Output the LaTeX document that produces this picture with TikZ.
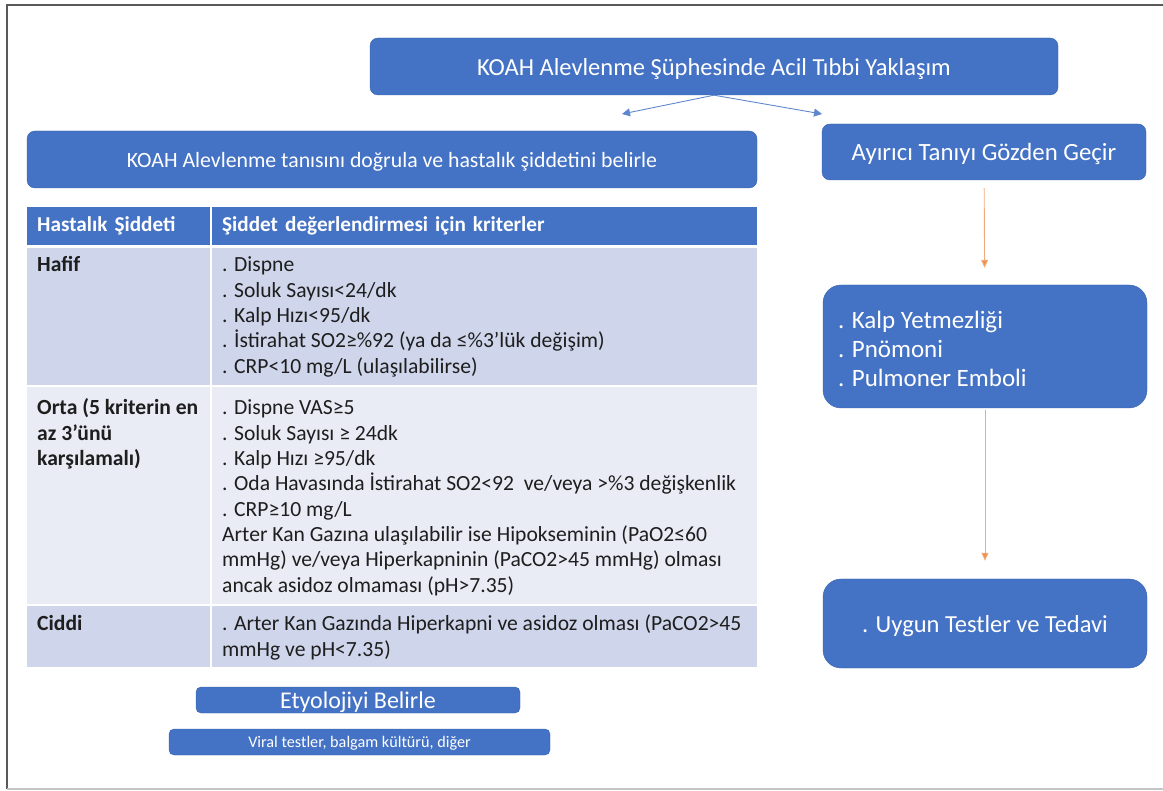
\documentclass[tikz,border=0pt]{standalone}
\usepackage{fontspec}
\setmainfont{Carlito}
\usetikzlibrary{arrows.meta, positioning}
\definecolor{boxblue}{HTML}{4472C4}
\definecolor{boxedge}{HTML}{3B63AB}
\definecolor{rowdark}{HTML}{CFD5EA}
\definecolor{rowlight}{HTML}{E9EBF5}
\definecolor{flowline}{HTML}{ED7D31}
\definecolor{bodytext}{HTML}{1E1E1E}
\tikzset{
    flowbox/.style={
        rectangle,
        rounded corners=8pt,
        draw=boxedge,
        fill=boxblue,
        text=white,
        inner sep=0pt,
        text depth=0pt,
        font=\fontsize{24.5}{28}\selectfont
    },
    listbox/.style={
        flowbox,
        rounded corners=18pt
    },
    smallbox/.style={
        flowbox,
        rounded corners=5pt
    },
    hcell/.style={
        rectangle,
        anchor=north west,
        fill=boxblue,
        text=white,
        inner xsep=10pt,
        inner ysep=0pt,
        align=left,
        minimum height=38pt,
        font=\fontsize{21.2}{25}\selectfont\bfseries
    },
    tcell/.style={
        rectangle,
        anchor=north west,
        inner sep=0pt
    },
    celltext/.style={
        inner sep=0pt,
        align=left,
        text=bodytext,
        font=\fontsize{21.6}{25.3}\selectfont
    },
    splitarrow/.style={
        draw=boxblue!85,
        line width=0.9pt,
        -{Triangle[length=8pt,width=8pt]}
    },
    flowarrow/.style={
        draw=flowline!65,
        line width=0.9pt,
        -{Triangle[length=8pt,width=7pt,fill=flowline!85]}
    }
}

\begin{document}
\begin{tikzpicture}[x=1pt,y=-1pt]

\useasboundingbox (0,0) rectangle (1163,791);
\draw[gray!70!black, line width=1.6pt] (7,789) -- (7,5) -- (1163,5);
\draw[gray!45, line width=1.2pt] (7,789) -- (1163,789);

\node[flowbox, minimum width=688pt, minimum height=57pt] (main) at (714,66.5) {KOAH Alevlenme Şüphesinde Acil Tıbbi Yaklaşım};
\node[flowbox, minimum width=730pt, minimum height=57pt, font=\fontsize{21.8}{25}\selectfont] (confirm) at (392,159.5) {KOAH Alevlenme tanısını doğrula ve hastalık şiddetini belirle};
\node[flowbox, minimum width=324pt, minimum height=56pt, font=\fontsize{24.8}{28}\selectfont] (diff) at (984,152) {Ayırıcı Tanıyı Gözden Geçir};
\node[listbox, minimum width=324pt, minimum height=123pt] (causes) at (985,346.5) {};
\node[align=left, text=white, inner sep=0pt, font=\fontsize{25}{29}\selectfont, right=15pt of causes.west, yshift=-2pt] (causelist) {. Kalp Yetmezliği\\. Pnömoni\\. Pulmoner Emboli};
\node[listbox, minimum width=324pt, minimum height=89pt] (treat) at (985,623.5) {. Uygun Testler ve Tedavi};

\coordinate (toconfirm) at (622,114);
\coordinate (todiff) at (822,114);
\draw[splitarrow] (main.south) -- (toconfirm);
\draw[splitarrow] (main.south) -- (todiff);
\draw[flowarrow, shorten <=8pt, shorten >=17pt] (diff) -- (causes);
\draw[flowarrow, shorten <=2pt, shorten >=18pt] (causes) -- (treat);

% severity table
\node[hcell, text width=163pt] (hsev) at (27,207) {Hastalık Şiddeti};
\node[hcell, text width=525pt] (hcrit) at (212,207) {Şiddet değerlendirmesi için kriterler};
\node[tcell, fill=rowdark, minimum width=183pt, minimum height=137pt] (mild) at (27,248) {};
\node[tcell, fill=rowdark, minimum width=545pt, minimum height=137pt] (mildc) at (212,248) {};
\node[tcell, fill=rowlight, minimum width=183pt, minimum height=217pt] (moderate) at (27,387) {};
\node[tcell, fill=rowlight, minimum width=545pt, minimum height=217pt] (moderatec) at (212,387) {};
\node[tcell, fill=rowdark, minimum width=183pt, minimum height=61pt] (severe) at (27,606) {};
\node[tcell, fill=rowdark, minimum width=545pt, minimum height=61pt] (severec) at (212,606) {};

\node[celltext, below right=6pt and 10pt of mild.north west] {\strut\textbf{Hafif}};
\node[celltext, below right=6pt and 10pt of mildc.north west] {\strut. Dispne\\. Soluk Sayısı<24/dk\\. Kalp Hızı<95/dk\\. İstirahat SO2≥\%92 (ya da ≤\%3’lük değişim)\\. CRP<10 mg/L (ulaşılabilirse)};
\node[celltext, below right=10pt and 10pt of moderate.north west] {\strut\textbf{Orta (5 kriterin en}\\\textbf{az 3’ünü}\\\textbf{karşılamalı)}};
\node[celltext, below right=10pt and 10pt of moderatec.north west] {\strut. Dispne VAS≥5\\. Soluk Sayısı ≥ 24dk\\. Kalp Hızı ≥95/dk\\. Oda Havasında İstirahat SO2<92~~ve/veya >\%3 değişkenlik\\. CRP≥10 mg/L\\Arter Kan Gazına ulaşılabilir ise Hipokseminin (PaO2≤60\\mmHg) ve/veya Hiperkapninin (PaCO2>45 mmHg) olması\\ancak asidoz olmaması (pH>7.35)};
\node[celltext, below right=7pt and 10pt of severe.north west] {\strut\textbf{Ciddi}};
\node[celltext, below right=7pt and 10pt of severec.north west] {\strut. Arter Kan Gazında Hiperkapni ve asidoz olması (PaCO2>45\\mmHg ve pH<7.35)};

\node[smallbox, minimum width=324pt, minimum height=26pt, font=\fontsize{24}{27}\selectfont] (cause) at (358,700) {Etyolojiyi Belirle};
\node[smallbox, minimum width=381pt, minimum height=26pt, font=\fontsize{16.2}{19}\selectfont] (tests) at (359.5,742) {Viral testler, balgam kültürü, diğer};

\end{tikzpicture}
\end{document}
